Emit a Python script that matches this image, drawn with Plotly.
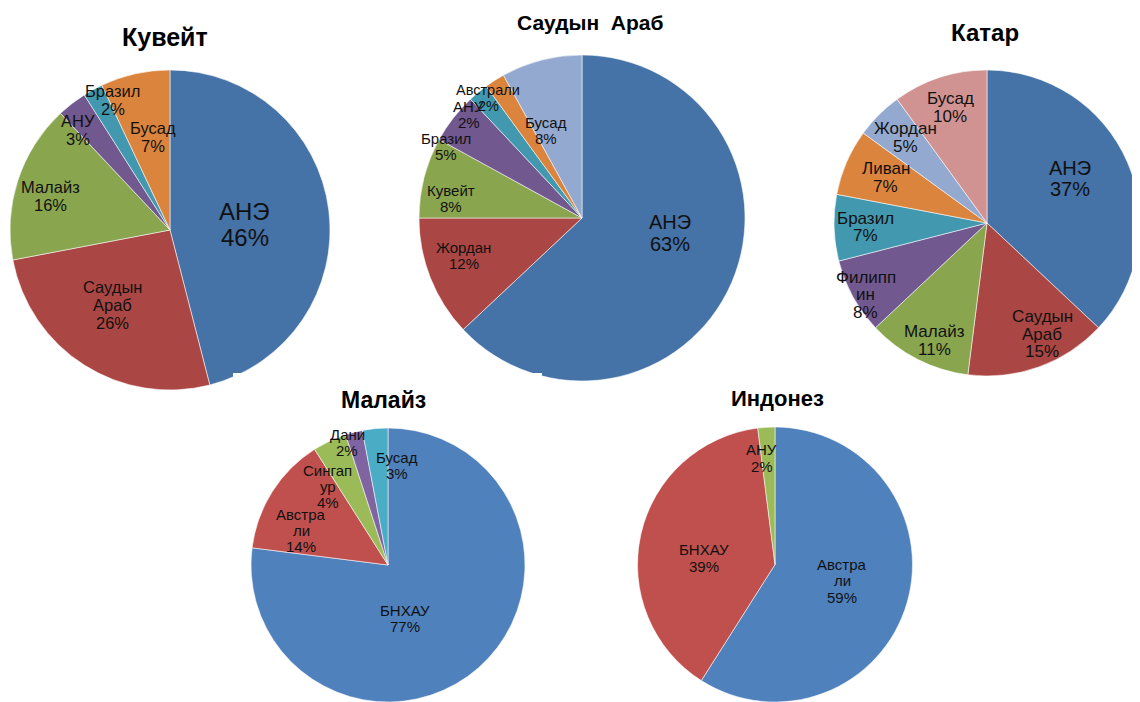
import math
import plotly.graph_objects as go

# page has an 8px body margin, so the figure is drawn 8px in from the corner
OFF = 8
W, H = 1140 - OFF, 702 - OFF

# --- data ---
kuwait_labels = ["АНЭ", "Саудын<br>Араб", "Малайз", "АНУ", "Бразил", "Бусад"]
kuwait_values = [46, 26, 16, 3, 2, 7]

saudi_labels = ["АНЭ", "Жордан", "Кувейт", "Бразил", "АНУ", "Австрали", "Бусад"]
saudi_values = [63, 12, 8, 5, 2, 2, 8]

qatar_labels = ["АНЭ", "Саудын<br>Араб", "Малайз", "Филипп<br>ин", "Бразил",
                "Ливан", "Жордан", "Бусад"]
qatar_values = [37, 15, 11, 8, 7, 7, 5, 10]

malaysia_labels = ["БНХАУ", "Австра<br>ли", "Сингап<br>ур", "Дани", "Бусад"]
malaysia_values = [77, 14, 4, 2, 3]

indonesia_labels = ["Австра<br>ли", "БНХАУ", "АНУ"]
indonesia_values = [59, 39, 2]

# --- styles ---
dark = ["#4572A7", "#AA4643", "#89A54E", "#71588F", "#4198AF", "#DB843D", "#93A9CF", "#D19392"]
bright = ["#4F81BD", "#C0504D", "#9BBB59", "#8064A2", "#4BACC6"]
FONT = "Liberation Sans, Arial"

pies = [
    # centre / radius in page px; label placement: radius factor k and angle nudge da (deg);
    # line = label line spacing as a multiple of font size
    dict(title="Кувейт", labels=kuwait_labels, values=kuwait_values, c=(170, 230), r=160,
         colors=dark, k=[0.47, 0.59, 0.78, 0.85, 0.89, 0.59], da=[3, 5, -2, -5, 5, 2],
         fs=[24, 16.5, 16.5, 16.5, 16.5, 16.5], line=1.1, tpos=(165, 37), tsize=25),
    dict(title="Саудын  Араб", labels=saudi_labels, values=saudi_values, c=(582, 218), r=163,
         colors=dark[:7], k=[0.55, 0.76, 0.81, 0.94, 0.94, 0.935, 0.58],
         da=[-14, 4, -6, -10, -8, -5.5, -8], fs=[20, 15, 15, 15, 15, 14.5, 15], line=1.1,
         tpos=(590, 22), tsize=21),
    dict(title="Катар", labels=qatar_labels, values=qatar_values, c=(991, 223), r=157,
         colors=dark, k=[0.58, 0.78, 0.83, 0.92, 0.8, 0.73, 0.77, 0.78],
         da=[-6, -5, -1.5, -1, 0, 0, 0, -1.5],
         fs=[20, 17, 17, 17, 17, 17, 17, 17], line=1.04, tpos=(985, 33), tsize=24),
    dict(title="Малайз", labels=malaysia_labels, values=malaysia_values, c=(388, 566), r=138,
         colors=bright, k=[0.4, 0.68, 0.72, 0.94, 0.73], da=[23, -10, -12, -4, 10.5],
         fs=[15, 15, 15, 15, 15], line=1.06, tpos=(384, 400), tsize=23),
    dict(title="Индонез", labels=indonesia_labels, values=indonesia_values, c=(775, 565), r=138,
         colors=bright[:3], k=[0.5, 0.52, 0.78], da=[-3, -7, -3.5], fs=[15, 15, 15],
         line=1.1, tpos=(777, 398), tsize=22),
]

fig = go.Figure()
annotations = []


def to_paper(px, py):
    return (px - OFF) / W, 1 - (py - OFF) / H


for p in pies:
    cx, cy = p["c"]
    r = p["r"]
    x0 = max(cx - r - OFF, 0) / W
    x1 = min(cx + r - OFF, W) / W
    y0 = 1 - min(cy + r - OFF, H) / H
    y1 = 1 - max(cy - r - OFF, 0) / H

    fig.add_trace(go.Pie(
        labels=[l.replace("<br>", "") for l in p["labels"]],
        values=p["values"],
        sort=False,
        direction="clockwise",
        rotation=0,
        textinfo="none",
        marker=dict(colors=p["colors"][:len(p["values"])],
                    line=dict(color="rgba(255,255,255,0.55)", width=1)),
        domain=dict(x=[x0, x1], y=[y0, y1]),
        showlegend=False,
        hoverinfo="label+percent",
    ))

    total = sum(p["values"])
    cum = 0
    for lab, v, k, da, fs in zip(p["labels"], p["values"], p["k"], p["da"], p["fs"]):
        theta = 2 * math.pi * (cum + v / 2) / total + math.radians(da)
        cum += v
        px = cx + k * r * math.sin(theta)
        py = cy - k * r * math.cos(theta)
        lines = lab.split("<br>") + [f"{v / total * 100:.0f}%"]
        n = len(lines)
        for i, line in enumerate(lines):
            ax, ay = to_paper(px, py + (i - (n - 1) / 2) * fs * p["line"])
            annotations.append(dict(
                x=ax, y=ay, xref="paper", yref="paper",
                text=line, showarrow=False,
                xanchor="center", yanchor="middle",
                font=dict(size=fs, color="#111111", family=FONT),
            ))

    tx, ty = to_paper(*p["tpos"])
    annotations.append(dict(
        x=tx, y=ty, xref="paper", yref="paper",
        text=f"<b>{p['title']}</b>", showarrow=False,
        xanchor="center", yanchor="middle",
        font=dict(size=p["tsize"], color="#000000", family=FONT),
    ))

# white chart-area edge of the lower row that covers the bottoms of the top pies
sx0, sy1 = to_paper(233, 373)
sx1, sy0 = to_paper(542, 392)
shapes = [dict(type="rect", xref="paper", yref="paper", x0=sx0, x1=sx1, y0=sy0, y1=sy1,
               fillcolor="white", line=dict(width=0), layer="above")]

fig.update_layout(
    width=W, height=H,
    margin=dict(l=0, r=0, t=0, b=0),
    paper_bgcolor="white",
    plot_bgcolor="white",
    annotations=annotations,
    shapes=shapes,
)

fig.write_html("out.html")
